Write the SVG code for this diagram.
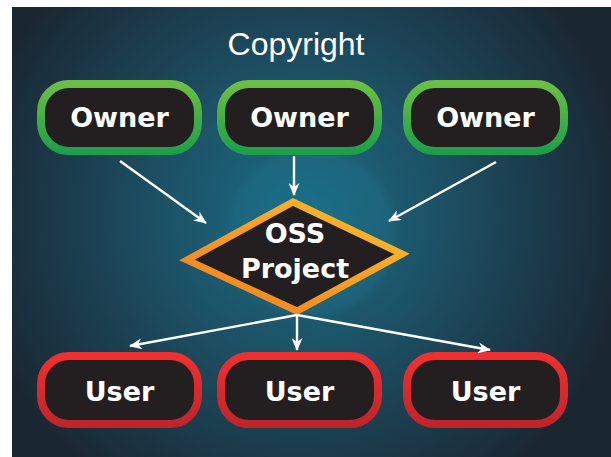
<svg xmlns="http://www.w3.org/2000/svg" width="611" height="457" viewBox="0 0 611 457">
<defs>
<radialGradient id="bg" cx="300" cy="215" r="330" gradientUnits="userSpaceOnUse">
<stop offset="0" stop-color="#1a6e87"/>
<stop offset="0.45" stop-color="#1d4f63"/>
<stop offset="1" stop-color="#1a2733"/>
</radialGradient>
<radialGradient id="glow" cx="312" cy="232" r="88" gradientUnits="userSpaceOnUse">
<stop offset="0" stop-color="#1b7390"/>
<stop offset="0.9" stop-color="#1f6a82"/>
<stop offset="1" stop-color="#1f6a82" stop-opacity="0"/>
</radialGradient>
<linearGradient id="green" x1="0" y1="0" x2="0" y2="1">
<stop offset="0" stop-color="#6cbf45"/>
<stop offset="1" stop-color="#1f9e4a"/>
</linearGradient>
<linearGradient id="red" x1="0" y1="0" x2="0" y2="1">
<stop offset="0" stop-color="#ef3030"/>
<stop offset="1" stop-color="#c0242b"/>
</linearGradient>
<linearGradient id="orange" x1="1" y1="0" x2="0" y2="1">
<stop offset="0" stop-color="#fbbf2a"/>
<stop offset="1" stop-color="#f07d22"/>
</linearGradient>
<marker id="ah" viewBox="0 0 13 11" refX="12" refY="5.5" markerWidth="13" markerHeight="11" markerUnits="userSpaceOnUse" orient="auto">
<path d="M0,0 L13,5.5 L0,11 L4,5.5 z" fill="#ffffff"/>
</marker>
</defs>
<style>
.box{fill:#231f20;stroke-width:8}
.owner{stroke:url(#green)}
.user{stroke:url(#red)}
.lbl{font-family:"DejaVu Sans",sans-serif;font-weight:bold;font-size:27px;fill:#ffffff;text-anchor:middle}
.conn line{stroke:#ffffff;stroke-width:2.4;marker-end:url(#ah)}
</style>
<rect x="12" y="7" width="599" height="450" fill="url(#bg)"/>
<circle cx="312" cy="232" r="88" fill="url(#glow)" opacity="0.5"/>
<text x="296" y="55" font-family="'Liberation Sans',Arial,sans-serif" font-size="32" fill="#ffffff" text-anchor="middle">Copyright</text>
<g id="owner1"><rect class="box owner" x="41" y="84" width="157" height="67" rx="28"/><text class="lbl" x="119.5" y="127">Owner</text></g>
<g id="owner2"><rect class="box owner" x="221" y="84" width="157" height="67" rx="28"/><text class="lbl" x="299.5" y="127">Owner</text></g>
<g id="owner3"><rect class="box owner" x="407" y="84" width="157" height="67" rx="28"/><text class="lbl" x="485.5" y="127">Owner</text></g>
<g id="oss"><polygon points="293,202 402,254 297,311 187,260" fill="#231f20" stroke="url(#orange)" stroke-width="7" stroke-linejoin="miter"/>
<text class="lbl" x="295" y="243">OSS</text><text class="lbl" x="295" y="278">Project</text></g>
<g id="user1"><rect class="box user" x="41" y="356" width="157" height="68" rx="28"/><text class="lbl" x="119.5" y="401">User</text></g>
<g id="user2"><rect class="box user" x="221" y="356" width="157" height="68" rx="28"/><text class="lbl" x="299.5" y="401">User</text></g>
<g id="user3"><rect class="box user" x="407" y="356" width="157" height="68" rx="28"/><text class="lbl" x="485.5" y="401">User</text></g>
<g class="conn" id="connectors">
<line x1="120" y1="161" x2="206" y2="223"/>
<line x1="294" y1="156" x2="294" y2="195"/>
<line x1="496" y1="162" x2="389" y2="221"/>
<line x1="297" y1="315" x2="130" y2="346"/>
<line x1="297" y1="315" x2="297" y2="350"/>
<line x1="297" y1="315" x2="490" y2="350"/>
</g>
</svg>
